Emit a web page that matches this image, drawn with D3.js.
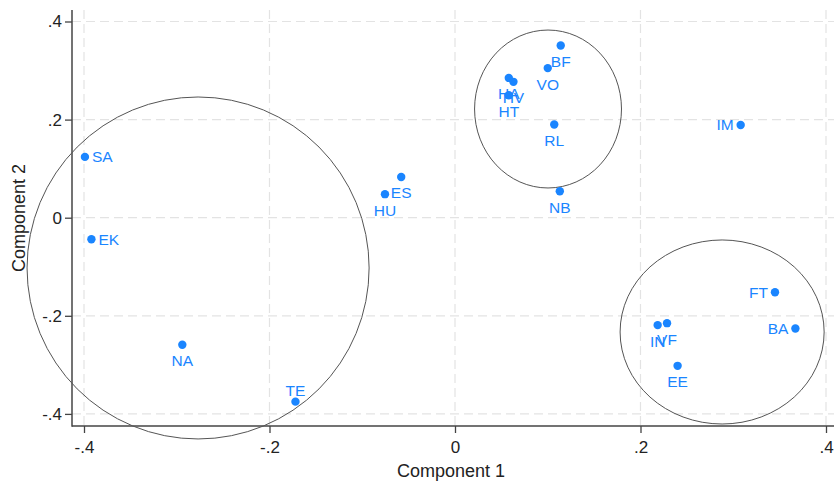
<!DOCTYPE html>
<html><head><meta charset="utf-8">
<script src="https://cdn.jsdelivr.net/npm/d3@7"></script>
<style>
html,body{margin:0;padding:0;background:#fff;}
svg{display:block;font-family:"Liberation Sans",Arial,sans-serif;}
</style></head>
<body><svg id="c" width="834" height="483"></svg>
<script>
const labels = ["SA","EK","NA","TE","HU","ES","NB","HA","HV","HT","VO","BF","RL","IM","FT","BA","IN","VF","EE"];
const comp1  = [-0.399,-0.392,-0.294,-0.172,-0.0755,-0.058,0.113,0.058,0.063,0.058,0.100,0.114,0.107,0.308,0.345,0.367,0.2185,0.2286,0.240];
const comp2  = [0.124,-0.044,-0.259,-0.375,0.048,0.083,0.054,0.285,0.277,0.2495,0.305,0.351,0.190,0.189,-0.152,-0.226,-0.219,-0.215,-0.302];
const labelPos = ["right","right","below","above","below","below","below","below","below","below","below","below","below","left","left","left","below","below","below"];
const ticks = [-0.4,-0.2,0,0.2,0.4];
const tickLabels = ["-.4","-.2","0",".2",".4"];
// grouping ellipses: center x, center y, radius x, radius y (data units)
const ellCx = [-0.277, 0.1003, 0.288];
const ellCy = [-0.1025, 0.2216, -0.233];
const ellRx = [0.1844, 0.0792, 0.110];
const ellRy = [0.3486, 0.161, 0.1876];

(function(){
const svg = d3.select("#c");
const x = d3.scaleLinear().domain([-0.4,0.4]).range([84,826]);
const y = d3.scaleLinear().domain([-0.4,0.4]).range([413.9,21.5]);
const pL = 72, pB = 426, pT = 10, pR = 834;
const blue = "#1a85ff";

// grid
svg.append("g").selectAll("line").data(ticks).join("line")
  .attr("x1", d=>x(d)).attr("x2", d=>x(d)).attr("y1", pT).attr("y2", pB)
  .attr("stroke","#e3e3e3").attr("stroke-width",1.2).attr("stroke-dasharray","9,5");
svg.append("g").selectAll("line").data(ticks).join("line")
  .attr("y1", d=>y(d)).attr("y2", d=>y(d)).attr("x1", pL).attr("x2", pR)
  .attr("stroke","#e3e3e3").attr("stroke-width",1.2).attr("stroke-dasharray","9,5");

// axes
const xAxis = d3.axisBottom(x).tickValues(ticks).tickFormat((d,i)=>tickLabels[i]).tickSize(7).tickSizeOuter(0);
const gx = svg.append("g").attr("transform",`translate(0,${pB})`).call(xAxis);
gx.select(".domain").remove();
gx.selectAll(".tick line").attr("stroke","#444").attr("stroke-width",1.3);
gx.selectAll(".tick text").attr("font-size",17).attr("fill","#222").attr("dy","1.0em").attr("font-family","Liberation Sans, Arial, sans-serif");

const yAxis = d3.axisLeft(y).tickValues(ticks).tickFormat((d,i)=>tickLabels[i]).tickSize(7).tickSizeOuter(0);
const gy = svg.append("g").attr("transform",`translate(${pL},0)`).call(yAxis);
gy.select(".domain").remove();
gy.selectAll(".tick line").attr("stroke","#444").attr("stroke-width",1.3);
gy.selectAll(".tick text").attr("font-size",17).attr("fill","#222").attr("x",-10).attr("font-family","Liberation Sans, Arial, sans-serif");

svg.append("line").attr("x1",pL).attr("x2",pL).attr("y1",pT).attr("y2",pB+0.7).attr("stroke","#444").attr("stroke-width",1.5);
svg.append("line").attr("x1",pL).attr("x2",pR).attr("y1",pB).attr("y2",pB).attr("stroke","#444").attr("stroke-width",1.5);

// titles
svg.append("text").attr("x",(pL+pR)/2-2).attr("y",477).attr("text-anchor","middle")
  .attr("font-size",18).attr("fill","#222").text("Component 1");
svg.append("text").attr("transform",`translate(25,${(pT+pB)/2}) rotate(-90)`).attr("text-anchor","middle")
  .attr("font-size",18).attr("fill","#222").text("Component 2");

// ellipses
svg.append("g").selectAll("ellipse").data(ellCx).join("ellipse")
  .attr("cx",(d,i)=>x(d)).attr("cy",(d,i)=>y(ellCy[i]))
  .attr("rx",(d,i)=>x(ellRx[i])-x(0)).attr("ry",(d,i)=>y(0)-y(ellRy[i]))
  .attr("fill","none").attr("stroke","#555").attr("stroke-width",1);

// points
const pts = labels.map((l,i)=>({l, cx:comp1[i], cy:comp2[i], pos:labelPos[i]}));
svg.append("g").selectAll("circle").data(pts).join("circle")
  .attr("cx",d=>x(d.cx)).attr("cy",d=>y(d.cy)).attr("r",4.2).attr("fill",blue);
svg.append("g").selectAll("text").data(pts).join("text")
  .attr("x",d=>x(d.cx)+(d.pos==="right"?7:d.pos==="left"?-7:0))
  .attr("y",d=>y(d.cy)+(d.pos==="below"?21.5:d.pos==="above"?-6:5.5))
  .attr("text-anchor",d=>d.pos==="right"?"start":d.pos==="left"?"end":"middle")
  .attr("font-size",15.5).attr("fill",blue).text(d=>d.l);
})();
</script>
</body></html>
